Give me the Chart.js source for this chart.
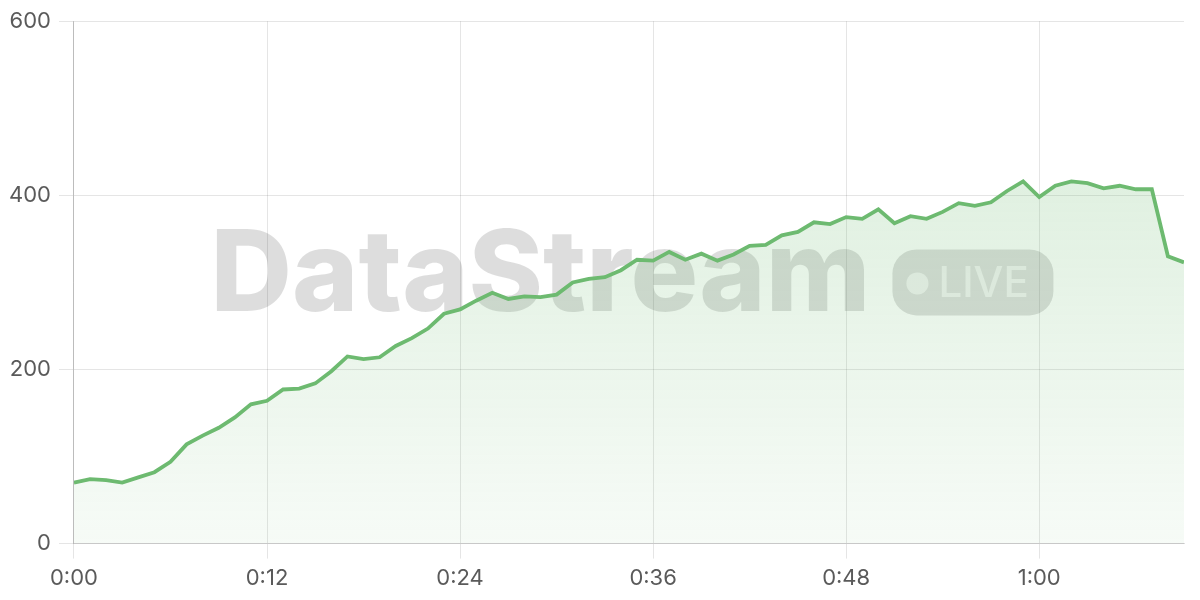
<!DOCTYPE html>
<html>
<head>
<meta charset="utf-8">
<script src="https://cdn.jsdelivr.net/npm/chart.js@4"></script>
<style>
  html, body { margin: 0; padding: 0; background: #fff; }
  #wrap { width: 1200px; height: 600px; }
</style>
</head>
<body>
<div id="wrap"><canvas id="streamChart"></canvas></div>
<script>
// Data (one point per minute)
const minutes = [0, 1, 2, 3, 4, 5, 6, 7, 8, 9, 10, 11, 12, 13, 14, 15, 16, 17, 18, 19,
  20, 21, 22, 23, 24, 25, 26, 27, 28, 29, 30, 31, 32, 33, 34, 35, 36, 37, 38, 39,
  40, 41, 42, 43, 44, 45, 46, 47, 48, 49, 50, 51, 52, 53, 54, 55, 56, 57, 58, 59,
  60, 61, 62, 63, 64, 65, 66, 67, 68, 69];
const viewers = [70, 74, 73, 70, 76, 82, 94, 114, 124, 133, 145, 160, 164, 177, 178, 184, 198, 215, 212, 214,
  227, 236, 247, 264, 269, 279, 288, 281, 284, 283, 286, 300, 304, 306, 314, 326, 325, 335, 326, 333,
  325, 332, 342, 343, 354, 358, 369, 367, 375, 373, 384, 368, 376, 373, 381, 391, 388, 392, 405, 416,
  398, 411, 416, 414, 408, 411, 407, 407, 330, 323];
const yTicks = [0, 200, 400, 600];
const xTickStep = 12;

const lineColor = '#6dba70';

// Watermark drawn behind the line and fill
const watermark = {
  id: 'watermark',
  beforeDatasetsDraw(chart) {
    const {ctx, chartArea} = chart;
    const cx = (chartArea.left + chartArea.right) / 2 + 3;
    const cy = (chartArea.top + chartArea.bottom) / 2;
    ctx.save();
    ctx.font = '800 112px Inter';
    const brand = 'DataStream';
    let w = ctx.measureText(brand).width;
    const size = 112 * 660 / w;
    ctx.font = '800 ' + size + 'px Inter';
    w = ctx.measureText(brand).width;

    const gap = 22;
    const pillW = 161, pillH = 66;
    const total = w + gap + pillW;
    const x0 = cx - total / 2;
    ctx.fillStyle = 'rgba(0,0,0,0.135)';
    ctx.textBaseline = 'alphabetic';
    ctx.fillText(brand, x0, cy + 29);

    const px = x0 + w + gap, py = cy - 33;
    ctx.beginPath();
    ctx.roundRect(px, py, pillW, pillH, 24);
    ctx.fill();

    ctx.fillStyle = 'rgba(255,255,255,0.62)';
    ctx.beginPath();
    ctx.arc(px + 25, cy + 1, 11, 0, Math.PI * 2);
    ctx.fill();
    ctx.font = '500 42px Inter';
    ctx.fillText('LIVE', px + 46, cy + 15);
    ctx.restore();
  }
};

const ctxStream = document.querySelector('#streamChart').getContext('2d');
const streamChart = new Chart(ctxStream, {
  type: 'line',
  data: {
    datasets: [{
      data: minutes.map((m, i) => ({x: m, y: viewers[i]})),
      borderColor: lineColor,
      borderWidth: 3.8,
      pointRadius: 0,
      tension: 0,
      fill: 'origin',
      backgroundColor: function (context) {
        const area = context.chart.chartArea;
        if (!area) return 'rgba(109,186,112,0.15)';
        const g = context.chart.ctx.createLinearGradient(0, area.top, 0, area.bottom);
        g.addColorStop(0, 'rgba(109,186,112,0.28)');
        g.addColorStop(1, 'rgba(109,186,112,0.06)');
        return g;
      }
    }]
  },
  options: {
    responsive: true,
    maintainAspectRatio: false,
    animation: false,
    layout: { padding: { top: 4, right: 16, left: 1, bottom: 1 } },
    plugins: {
      legend: { display: false },
      tooltip: { enabled: false }
    },
    scales: {
      x: {
        type: 'linear',
        min: minutes[0],
        max: minutes[minutes.length - 1],
        grid: { color: 'rgba(0,0,0,0.1)', tickLength: 15 },
        border: { color: 'rgba(0,0,0,0.13)' },
        ticks: {
          stepSize: xTickStep,
          includeBounds: false,
          color: '#5a5a5a',
          font: { family: 'Inter', size: 22 },
          padding: 7,
          callback: (v) => Math.floor(v / 60) + ':' + String(v % 60).padStart(2, '0')
        }
      },
      y: {
        min: yTicks[0],
        max: yTicks[yTicks.length - 1],
        grid: { color: 'rgba(0,0,0,0.1)', tickLength: 15 },
        border: { color: 'rgba(0,0,0,0.18)' },
        ticks: {
          stepSize: yTicks[1] - yTicks[0],
          color: '#5a5a5a',
          font: { family: 'Inter', size: 22 },
          padding: 8
        }
      }
    }
  },
  plugins: [watermark]
});
</script>
</body>
</html>
